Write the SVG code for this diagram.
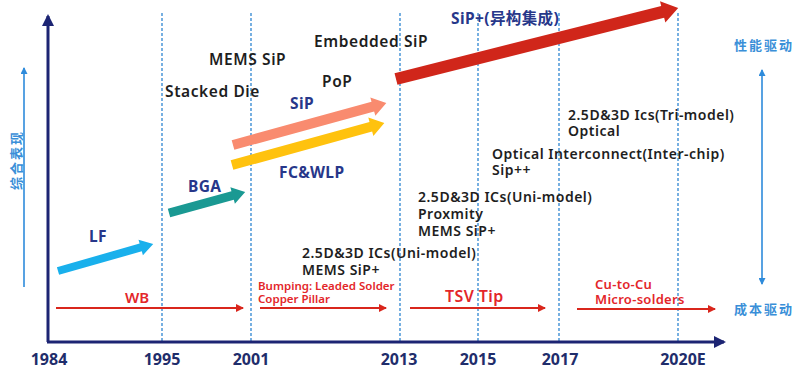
<svg xmlns="http://www.w3.org/2000/svg" width="800" height="374" viewBox="0 0 800 374">
<defs>
<style>
.dash{stroke:#2F86D2;stroke-width:1.3;stroke-dasharray:3 2;fill:none}
.axis{stroke:#1C2473;stroke-width:3;fill:none}
.red{stroke:#D9261C;stroke-width:2;fill:none}
.blu{stroke:#2E8BDB;stroke-width:1.6;fill:none}
.t{font-family:"Noto Sans","Noto Sans CJK SC",sans-serif;font-weight:600;fill:#1E1E1E;font-size:14px;letter-spacing:0.5px}
.big{font-size:15.5px;letter-spacing:0.6px}
.nv{font-family:"Noto Sans","Noto Sans CJK SC",sans-serif;font-weight:700;fill:#27378A;font-size:15.5px;letter-spacing:0.4px}
.yr{font-family:"Noto Sans",sans-serif;font-weight:700;fill:#1F2D6B;font-size:16px;text-anchor:middle}
.rt{font-family:"Noto Sans",sans-serif;font-weight:600;fill:#E3262A}
.cn{font-family:"Noto Sans CJK SC",sans-serif;font-weight:700;fill:#3A8FD8;font-size:13px;letter-spacing:2px}
</style>
<marker id="ra" markerWidth="8" markerHeight="8" refX="7" refY="4" orient="auto" markerUnits="userSpaceOnUse"><path d="M0,0 L8,4 L0,8 Z" fill="#D9261C"/></marker>
<marker id="ax" markerWidth="12" markerHeight="12" refX="10" refY="6" orient="auto" markerUnits="userSpaceOnUse"><path d="M0,0 L12,6 L0,12 Z" fill="#1C2473"/></marker>
<marker id="ba" markerWidth="7" markerHeight="7" refX="6" refY="3.5" orient="auto-start-reverse" markerUnits="userSpaceOnUse"><path d="M0,0 L7,3.5 L0,7 Z" fill="#2E8BDB"/></marker>
</defs>
<rect width="800" height="374" fill="#ffffff"/>

<g id="gridlines">
<line class="dash" x1="162" y1="13" x2="162" y2="341"/>
<line class="dash" x1="251" y1="13" x2="251" y2="341"/>
<line class="dash" x1="400" y1="13" x2="400" y2="341"/>
<line class="dash" x1="478" y1="13" x2="478" y2="341"/>
<line class="dash" x1="559" y1="13" x2="559" y2="341"/>
<line class="dash" x1="678" y1="13" x2="678" y2="341"/>
</g>

<g id="axes">
<path class="axis" d="M48,342 L48,16" marker-end="url(#ax)"/>
<path class="axis" d="M47,342 L724,342" marker-end="url(#ax)"/>
<line class="blu" x1="24" y1="287" x2="24" y2="68" marker-end="url(#ba)"/>
<line class="blu" x1="762" y1="70" x2="762" y2="284" marker-start="url(#ba)" marker-end="url(#ba)"/>
</g>

<g id="axis-labels">
<text class="cn" transform="translate(21,190) rotate(-90)">综合表现</text>
<text class="cn" x="734" y="50">性能驱动</text>
<text class="cn" x="734" y="314">成本驱动</text>
<text class="yr" x="49" y="365">1984</text>
<text class="yr" x="162" y="365">1995</text>
<text class="yr" x="251" y="365">2001</text>
<text class="yr" x="399" y="365">2013</text>
<text class="yr" x="478" y="365">2015</text>
<text class="yr" x="560" y="365">2017</text>
<text class="yr" x="683" y="365">2020E</text>
</g>

<g id="connectors">
<polygon fill="#19B0EC" transform="translate(58,271) rotate(-15.9)" points="0,-4 86,-4 86,-8 99,0 86,8 86,4 0,4"/>
<polygon fill="#1A9993" transform="translate(169,213) rotate(-15.4)" points="0,-4.5 66,-4.5 66,-8.5 79,0 66,8.5 66,4.5 0,4.5"/>
<polygon fill="#F98B6F" transform="translate(233,145) rotate(-15.35)" points="0,-5 145,-5 145,-9.5 159,0 145,9.5 145,5 0,5"/>
<polygon fill="#FFC20E" transform="translate(232,165) rotate(-15.4)" points="0,-5 144,-5 144,-9.5 158,0 144,9.5 144,5 0,5"/>
<polygon fill="#D0261A" transform="translate(396,79) rotate(-14.13)" points="0,-6 275,-6 275,-11 291,0 275,11 275,6 0,6"/>
<line class="red" x1="56" y1="308" x2="243" y2="308" marker-end="url(#ra)"/>
<line class="red" x1="260" y1="308" x2="386" y2="308" marker-end="url(#ra)"/>
<line class="red" x1="410" y1="308" x2="545" y2="308" marker-end="url(#ra)"/>
<line class="red" x1="577" y1="309" x2="715" y2="309" marker-end="url(#ra)"/>
</g>

<g id="node-lf"><text class="nv" x="89" y="242">LF</text></g>
<g id="node-bga"><text class="nv" x="188" y="192">BGA</text></g>
<g id="node-sip"><text class="nv" x="290" y="109">SiP</text></g>
<g id="node-fcwlp"><text class="nv" x="279" y="178">FC&amp;WLP</text></g>
<g id="node-sipplus"><text class="nv" x="451" y="24">SiP+(异构集成)</text></g>

<g id="node-mems"><text class="t big" x="209" y="65">MEMS SiP</text></g>
<g id="node-stacked"><text class="t big" x="165" y="97">Stacked Die</text></g>
<g id="node-embedded"><text class="t big" x="314" y="47">Embedded SiP</text></g>
<g id="node-pop"><text class="t big" x="322" y="87">PoP</text></g>

<g id="node-tri"><text class="t" x="568" y="120">2.5D&amp;3D Ics(Tri-model)</text><text class="t" x="568" y="136">Optical</text></g>
<g id="node-optical"><text class="t" x="492" y="159">Optical Interconnect(Inter-chip)</text><text class="t" x="492" y="175">Sip++</text></g>
<g id="node-uni2"><text class="t" x="418" y="202">2.5D&amp;3D ICs(Uni-model)</text><text class="t" x="418" y="219">Proxmity</text><text class="t" x="418" y="236">MEMS SiP+</text></g>
<g id="node-uni1"><text class="t" x="302" y="258">2.5D&amp;3D ICs(Uni-model)</text><text class="t" x="302" y="275">MEMS SiP+</text></g>

<g id="node-wb"><text class="rt" x="125" y="303" font-size="15">WB</text></g>
<g id="node-bump"><text class="rt" x="258" y="290" font-size="11.5">Bumping: Leaded Solder</text><text class="rt" x="258" y="303" font-size="11.5">Copper Pillar</text></g>
<g id="node-tsv"><text class="rt" x="445" y="302" font-size="16" letter-spacing="0.4">TSV Tip</text></g>
<g id="node-cu"><text class="rt" x="595" y="289" font-size="13" letter-spacing="0.3">Cu-to-Cu</text><text class="rt" x="595" y="304" font-size="13" letter-spacing="0.3">Micro-solders</text></g>
</svg>
